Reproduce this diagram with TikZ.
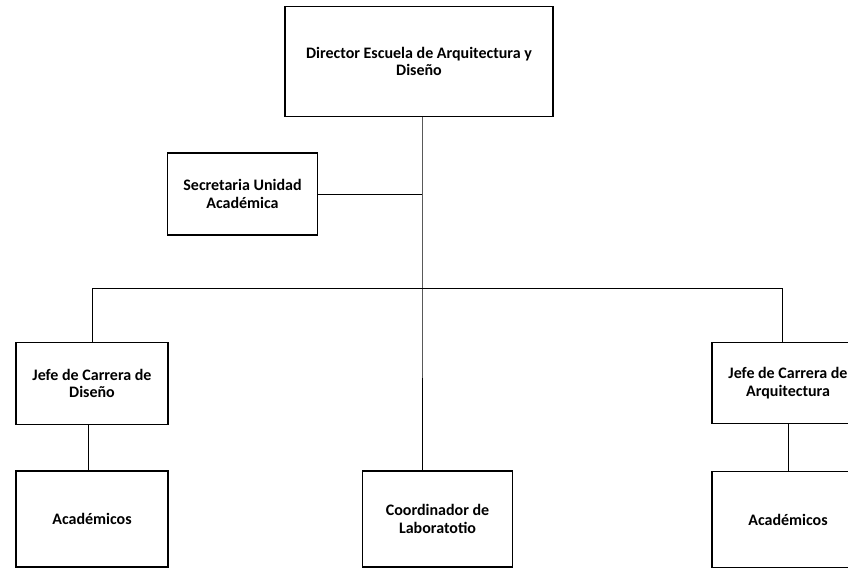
\documentclass[tikz,border=0pt]{standalone}
\usepackage{fontspec}
\setmainfont{Carlito}
\usepackage{tikz}
\usetikzlibrary{positioning}

\begin{document}
\begin{tikzpicture}[x=0.75pt, y=-0.75pt,
  textbox/.style={font=\bfseries\fontsize{12}{13}\selectfont, draw, line width=0.9pt, minimum width=114pt, minimum height=61pt, inner sep=2pt, align=center},
  link/.style={line width=0.6pt}]
\useasboundingbox (0,0) rectangle (848,569);
%boxes
\node[textbox, minimum width=201pt, minimum height=82pt] (dir) at (419,61.5) {Director Escuela de Arquitectura y\\Diseño};
\node[textbox, minimum width=113pt, minimum height=61.5pt] (sec) at (242.5,194) {Secretaria Unidad\\Académica};
\node[textbox] (jefeD) at (92,383.5) {Jefe de Carrera de\\Diseño};
\node[textbox] (jefeA) at (788,383) {Jefe de Carrera de\\Arquitectura};
\node[textbox, minimum height=72pt] (acadD) at (92,519) {Académicos};
\node[textbox, minimum width=113pt, minimum height=72pt] (coord) at (437.5,519) {Coordinador de\\Laboratotio};
\node[textbox, minimum height=72pt] (acadA) at (788,519.5) {Académicos};
\coordinate (trunk) at (422,288);
\coordinate (barL) at (92,288);
\coordinate (barR) at (782,288);
%lines
\draw[link] (trunk |- dir.south) -- (trunk) -- (trunk |- coord.north);
\draw[link] (sec.east) -- (sec.east -| trunk);
\draw[link] (barL |- jefeD.north) -- (barL) -- (barR) -- (barR |- jefeA.north);
\draw[link] ([xshift=-3pt]jefeD.south) -- ([xshift=-3pt]acadD.north);
\draw[link] (jefeA.south) -- (acadA.north);
\end{tikzpicture}
\end{document}
